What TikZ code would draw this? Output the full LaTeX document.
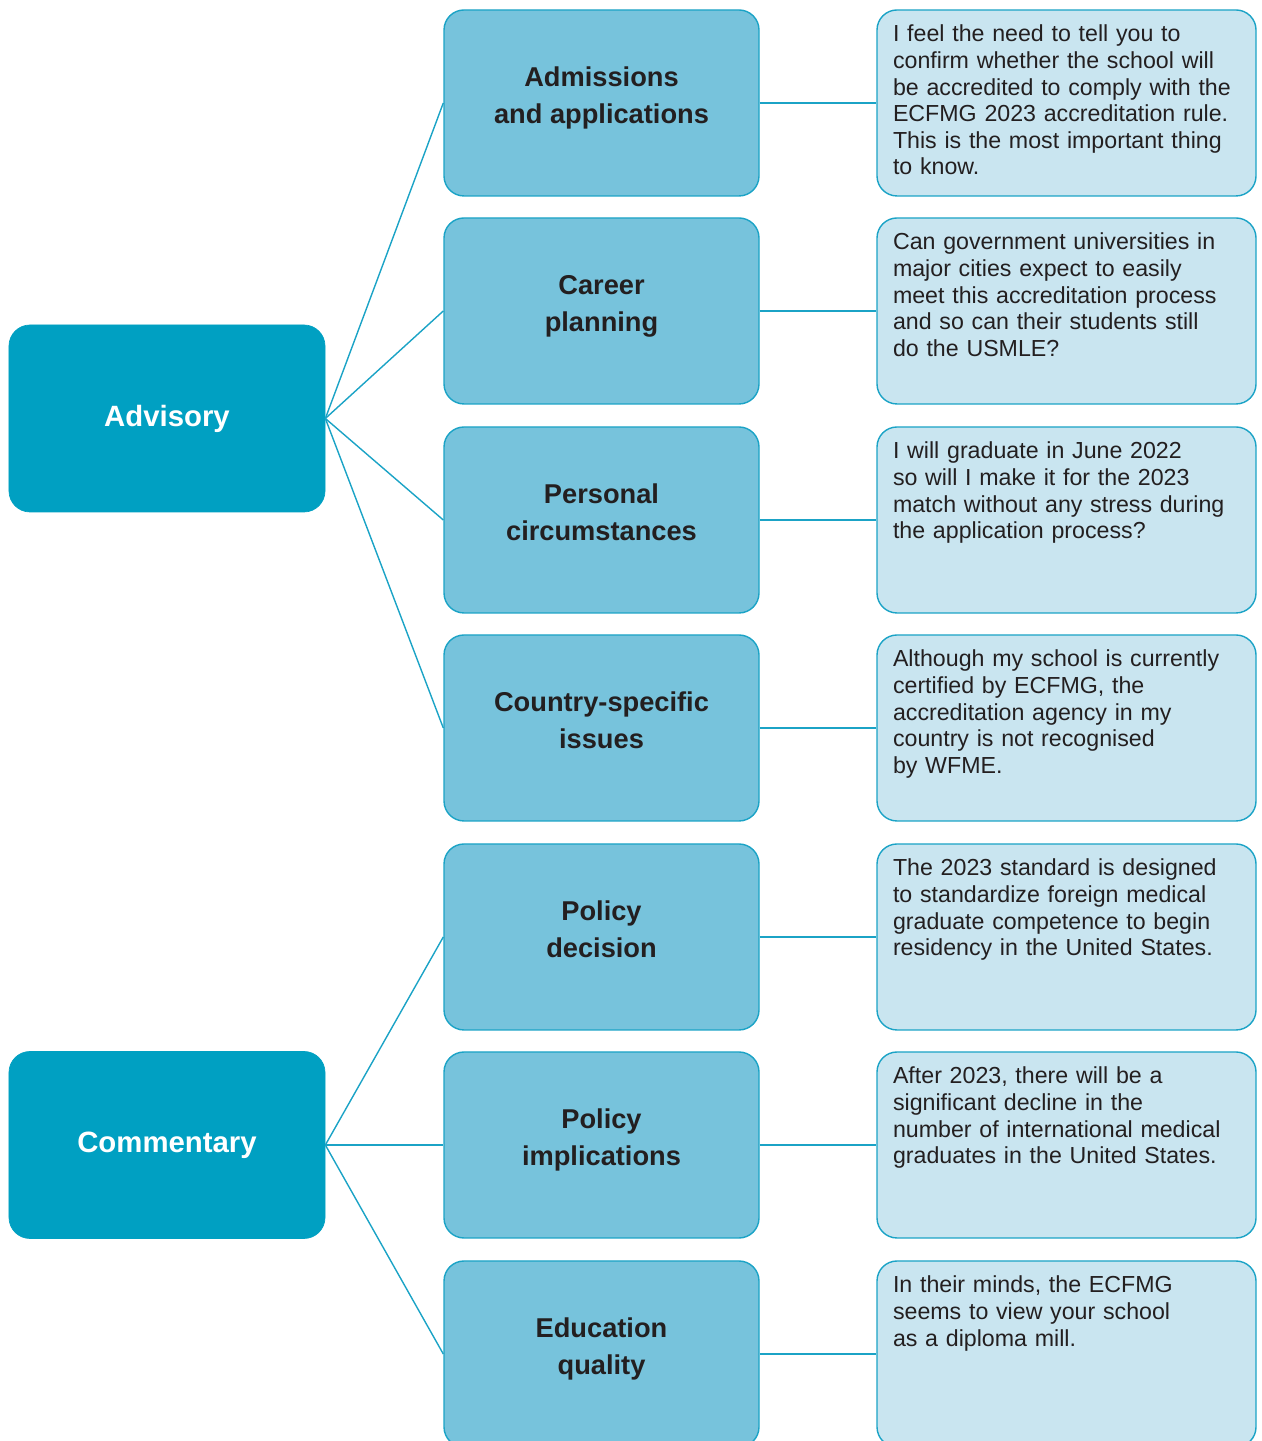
\documentclass[tikz,border=0pt]{standalone}
\usepackage{fontspec}
\setmainfont{Liberation Sans}
\usetikzlibrary{calc}
\definecolor{darkteal}{RGB}{0, 160, 194}
\definecolor{midteal}{RGB}{119, 195, 220}
\definecolor{lightteal}{RGB}{201, 229, 240}
\definecolor{edgeteal}{RGB}{27, 163, 198}
\definecolor{inkgray}{RGB}{35, 31, 32}

\begin{document}
\begin{tikzpicture}

\tikzstyle{dark-b} = [draw=darkteal, fill=darkteal, rounded corners=0.42cm, minimum width=6.32cm,
minimum height=3.74cm, text=white, font=\fontsize{16.7}{20}\selectfont\bfseries]
\tikzstyle{mid-b} = [draw=edgeteal, line width=0.8pt, fill=midteal, rounded corners=0.4cm, minimum width=6.3cm,
minimum height=3.72cm, inner sep=0pt, text=inkgray, font=\fontsize{15.5}{21}\selectfont\bfseries]
\tikzstyle{light-b} = [draw=edgeteal, line width=0.8pt, fill=lightteal, rounded corners=0.4cm, inner xsep=0.32cm,
inner ysep=0.3cm, text width=6.94cm, text height=0.34cm, text depth=2.78cm, align=left, text=inkgray,
font=\fontsize{13.2}{15.1}\selectfont]
\tikzstyle{link} = [draw=edgeteal, line width=0.8pt]

\useasboundingbox (0,0) rectangle (25.24,28.82);
\clip (0,0) rectangle (25.24,28.82);

\node [dark-b] (advisory) at (3.34,20.45) {Advisory};
\node [dark-b] (commentary) at (3.34,5.92) {Commentary};

\node [mid-b] (admissions) at (12.03,26.76) {\raisebox{3pt}[\height][\depth]{\begin{tabular}{c} Admissions\\and applications\end{tabular}}};
\node [mid-b] (career) at (12.03,22.60) {\raisebox{3pt}[\height][\depth]{\begin{tabular}{c} Career\\planning\end{tabular}}};
\node [mid-b] (personal) at (12.03,18.42) {\raisebox{3pt}[\height][\depth]{\begin{tabular}{c} Personal\\circumstances\end{tabular}}};
\node [mid-b] (country) at (12.03,14.26) {\raisebox{3pt}[\height][\depth]{\begin{tabular}{c} Country-specific\\issues\end{tabular}}};
\node [mid-b] (decision) at (12.03,10.08) {\raisebox{3pt}[\height][\depth]{\begin{tabular}{c} Policy\\decision\end{tabular}}};
\node [mid-b] (implications) at (12.03,5.92) {\raisebox{3pt}[\height][\depth]{\begin{tabular}{c} Policy\\implications\end{tabular}}};
\node [mid-b] (quality) at (12.03,1.74) {\raisebox{3pt}[\height][\depth]{\begin{tabular}{c} Education\\quality\end{tabular}}};

\node [light-b] (q-admissions) at (21.33,26.76) {I feel the need to tell you to\\confirm whether the school will\\be accredited to comply with the\\ECFMG 2023 accreditation rule.\\This is the most important thing\\to know.};
\node [light-b] (q-career) at (21.33,22.60) {Can government universities in\\major cities expect to easily\\meet this accreditation process\\and so can their students still\\do the USMLE?};
\node [light-b] (q-personal) at (21.33,18.42) {I will graduate in June 2022\\so will I make it for the 2023\\match without any stress during\\the application process?};
\node [light-b] (q-country) at (21.33,14.26) {Although my school is currently\\certified by ECFMG, the\\accreditation agency in my\\country is not recognised\\by WFME.};
\node [light-b] (q-decision) at (21.33,10.08) {The 2023 standard is designed\\to standardize foreign medical\\graduate competence to begin\\residency in the United States.};
\node [light-b] (q-implications) at (21.33,5.92) {After 2023, there will be a\\significant decline in the\\number of international medical\\graduates in the United States.};
\node [light-b] (q-quality) at (21.33,1.74) {In their minds, the ECFMG\\seems to view your school\\as a diploma mill.};

\draw [link] (advisory.east) -- (admissions.west);
\draw [link] (advisory.east) -- (career.west);
\draw [link] (advisory.east) -- (personal.west);
\draw [link] (advisory.east) -- (country.west);
\draw [link] (commentary.east) -- (decision.west);
\draw [link] (commentary.east) -- (implications.west);
\draw [link] (commentary.east) -- (quality.west);

\draw [link] (admissions.east) -- (q-admissions.west);
\draw [link] (career.east) -- (q-career.west);
\draw [link] (personal.east) -- (q-personal.west);
\draw [link] (country.east) -- (q-country.west);
\draw [link] (decision.east) -- (q-decision.west);
\draw [link] (implications.east) -- (q-implications.west);
\draw [link] (quality.east) -- (q-quality.west);

\end{tikzpicture}
\end{document}
